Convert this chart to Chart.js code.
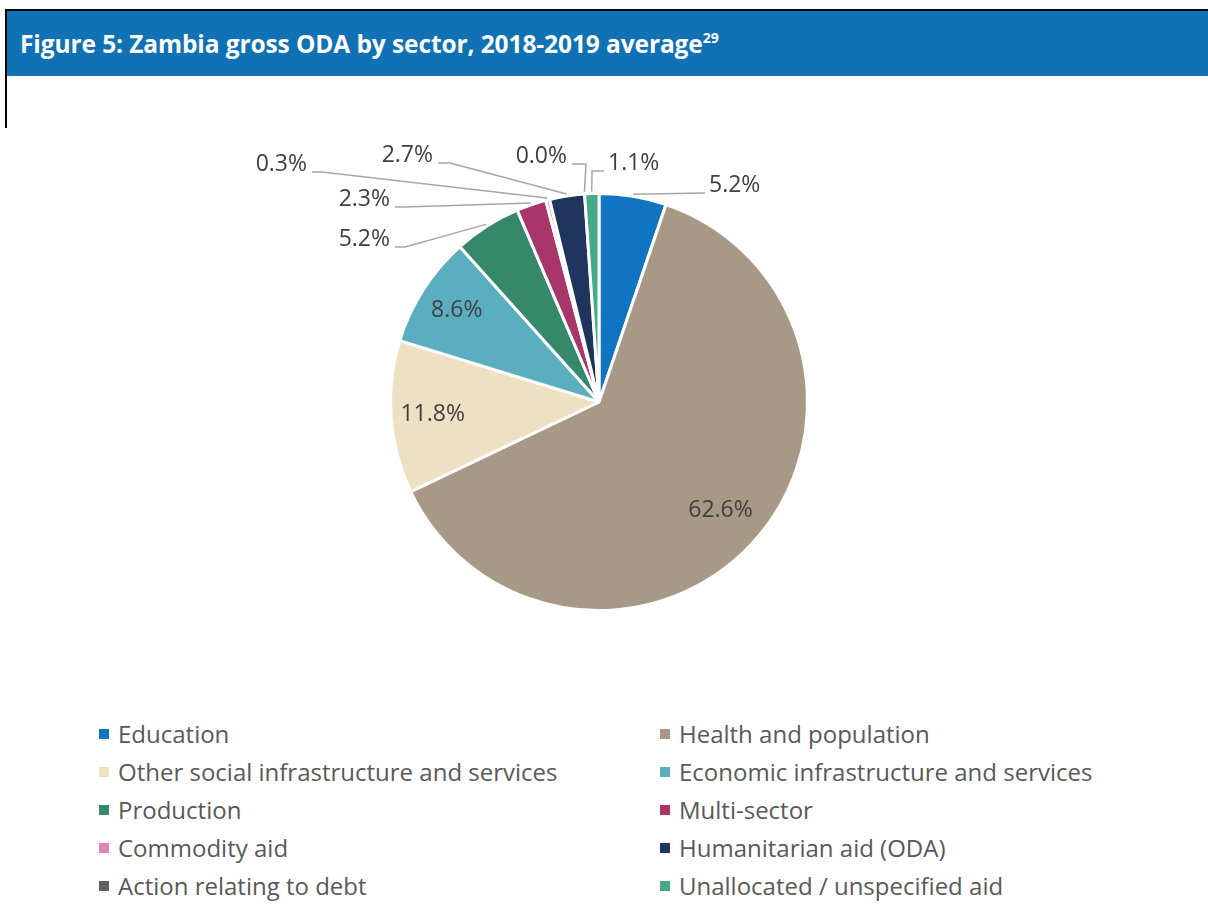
<!DOCTYPE html>
<html>
<head>
<meta charset="utf-8">
<script src="https://cdn.jsdelivr.net/npm/chart.js@4.4.1/dist/chart.umd.min.js"></script>
<style>
  body { margin: 0; background: #fff; font-family: "Open Sans", sans-serif; }
  #page { position: relative; width: 1208px; height: 924px; overflow: hidden; }
  #frameTop { position: absolute; left: 5px; top: 9px; width: 1203px; height: 2px; background: #000; }
  #frameLeft { position: absolute; left: 5px; top: 9px; width: 2px; height: 119px; background: #000; }
  #header { position: absolute; left: 7px; top: 11px; width: 1201px; height: 65px; background: #1071b4; }
  #title { position: absolute; left: 13px; top: 16px; color: #fff; font-weight: bold; font-size: 24.5px; white-space: nowrap; letter-spacing: -0.1px; }
  #title sup { font-size: 14px; vertical-align: 10px; line-height: 0; }
  #chartBox { position: absolute; left: 0; top: 76px; width: 1208px; height: 640px; }
  #legend { position: absolute; left: 0; top: 0; width: 1208px; }
  .item { position: absolute; font-size: 24px; color: #595959; white-space: nowrap; line-height: 30px; }
  .item i { position: absolute; left: -19px; top: 10px; width: 10px; height: 10px; }
</style>
</head>
<body>
<div id="page">
  <div id="header"><div id="title">Figure 5: Zambia gross ODA by sector, 2018-2019 average<sup>29</sup></div></div>
  <div id="frameTop"></div>
  <div id="frameLeft"></div>
  <div id="chartBox"><canvas id="pie"></canvas></div>
  <div id="legend"></div>
</div>
<script>
var sectors = ['Education', 'Health and population', 'Other social infrastructure and services',
  'Economic infrastructure and services', 'Production', 'Multi-sector', 'Commodity aid',
  'Humanitarian aid (ODA)', 'Action relating to debt', 'Unallocated / unspecified aid'];
var shares = [5.2, 62.6, 11.8, 8.6, 5.2, 2.3, 0.3, 2.7, 0.0, 1.1];
var colours = ['#0f74c1', '#a89886', '#eee0c2', '#5aaec0', '#35886a', '#a8366a', '#e585b5',
  '#1f355f', '#606060', '#45aa85'];

// where the outside labels sit, relative to the pie centre: elbow of the leader, end of leader, side
var outside = {
  0: { ex: 106, ey: -209, hx: 106, side: 'r' },
  4: { ex: -194, ey: -155, hx: -204, side: 'l' },
  5: { ex: -194, ey: -195, hx: -204, side: 'l' },
  6: { ex: -277, ey: -230, hx: -287, side: 'l' },
  7: { ex: -149, ey: -239, hx: -161, side: 'l' },
  8: { ex: -13, ey: -238, hx: -27, side: 'l' },
  9: { ex: -7, ey: -231, hx: 5, side: 'r' }
};
// inside labels: distance from centre as a share of the radius
var inside = { 1: 0.78, 2: 0.8, 3: 0.81 };

var pieLabels = {
  id: 'pieLabels',
  afterDatasetsDraw: function(chart) {
    var ctx = chart.ctx;
    var arcs = chart.getDatasetMeta(0).data;
    ctx.save();
    ctx.font = '23px "Open Sans"';
    ctx.fillStyle = '#404040';
    arcs.forEach(function(arc, i) {
      var p = arc.getProps(['x', 'y', 'startAngle', 'endAngle', 'outerRadius']);
      var mid = (p.startAngle + p.endAngle) / 2;
      var txt = shares[i].toFixed(1) + '%';
      var o = outside[i];
      if (!o) {
        var d = p.outerRadius * (inside[i] || 0.79);
        ctx.textAlign = 'center';
        ctx.textBaseline = 'middle';
        ctx.fillText(txt, p.x + Math.cos(mid) * d, p.y + Math.sin(mid) * d);
        return;
      }
      var r = p.outerRadius + 2;
      var sx = p.x + Math.cos(mid) * r, sy = p.y + Math.sin(mid) * r;
      ctx.strokeStyle = '#a6a6a6';
      ctx.lineWidth = 1.5;
      ctx.beginPath();
      ctx.moveTo(sx, sy);
      ctx.lineTo(p.x + o.ex, p.y + o.ey);
      ctx.lineTo(p.x + o.hx, p.y + o.ey);
      ctx.stroke();
      ctx.textBaseline = 'middle';
      if (o.side === 'r') {
        ctx.textAlign = 'left';
        ctx.fillText(txt, p.x + o.hx + 4, p.y + o.ey - 8);
      } else {
        ctx.textAlign = 'right';
        ctx.fillText(txt, p.x + o.hx - 5, p.y + o.ey - 8);
      }
    });
    ctx.restore();
  }
};

new Chart(document.getElementById('pie'), {
  type: 'pie',
  data: {
    labels: sectors,
    datasets: [{
      data: shares,
      backgroundColor: colours,
      borderColor: '#ffffff',
      borderWidth: 3
    }]
  },
  options: {
    responsive: true,
    maintainAspectRatio: false,
    animation: false,
    layout: { padding: { top: 116, bottom: 104, left: 0, right: 10 } },
    plugins: { legend: { display: false }, tooltip: { enabled: false } }
  },
  plugins: [pieLabels]
});

// legend in two columns, reading across
var legend = document.getElementById('legend');
sectors.forEach(function(name, i) {
  var el = document.createElement('div');
  el.className = 'item';
  el.style.left = (i % 2 === 0 ? 118 : 679) + 'px';
  el.style.top = (719 + Math.floor(i / 2) * 38) + 'px';
  el.innerHTML = '<i style="background:' + colours[i] + '"></i>' + name;
  legend.appendChild(el);
});
</script>
</body>
</html>
